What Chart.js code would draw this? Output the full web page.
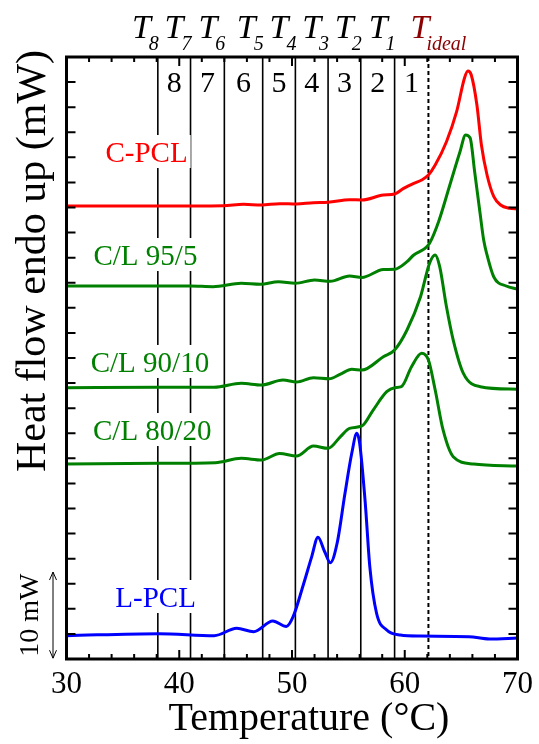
<!DOCTYPE html>
<html lang="en">
<head>
<meta charset="UTF-8">
<title>DSC heating curves</title>
<script src="https://cdn.jsdelivr.net/npm/chart.js"></script>
<style>
  html, body { margin: 0; padding: 0; background: #fff; }
  .warm { position: absolute; left: -999px; top: 0; font-family: "Liberation Serif"; }
</style>
</head>
<body>
<span class="warm">Temperature <i>T ideal</i></span>
<canvas id="dsc" width="539" height="744"></canvas>
<script>
// Heat flow curves: temperature (°C) and offset heat flow (mW)
const tempCPCL = [30.0, 38.0, 43.9, 45.7, 47.3, 48.9, 50.4, 51.9, 53.2, 55.1, 56.2, 58.1, 59.1, 59.9, 60.8, 61.5, 62.1, 62.7, 63.7, 64.6, 65.3, 65.6, 65.9, 66.4, 66.8, 67.3, 67.9, 68.5, 69.3, 70.0];
const heatCPCL = [54.18, 54.18, 54.22, 54.38, 54.30, 54.46, 54.42, 54.58, 54.62, 54.93, 54.90, 55.49, 55.61, 56.29, 56.89, 57.29, 57.89, 59.08, 61.87, 65.46, 69.49, 70.32, 69.85, 66.26, 61.47, 57.89, 55.29, 54.30, 53.90, 53.82];

const temp955 = [30.0, 41.0, 43.0, 45.5, 47.2, 48.8, 50.3, 52.0, 53.4, 55.1, 56.2, 58.1, 59.1, 60.2, 60.8, 61.8, 62.2, 63.0, 64.0, 64.9, 65.4, 65.8, 66.2, 66.7, 67.0, 67.3, 67.9, 69.0, 70.0];
const heat955 = [44.61, 44.61, 44.53, 44.93, 44.81, 45.12, 44.93, 45.33, 45.17, 45.81, 45.63, 46.58, 46.61, 47.52, 48.32, 49.12, 49.72, 52.30, 56.69, 60.67, 62.67, 62.31, 58.28, 53.10, 50.11, 48.32, 45.69, 44.61, 44.25];

const temp9010 = [30.0, 38.2, 43.1, 45.5, 47.3, 49.2, 50.4, 51.9, 53.3, 54.3, 55.3, 56.2, 58.1, 59.1, 60.2, 61.4, 62.2, 62.7, 63.1, 63.7, 64.3, 65.2, 66.7, 70.0];
const heat9010 = [32.45, 32.50, 32.50, 32.97, 32.77, 33.37, 33.13, 33.64, 33.52, 34.08, 34.65, 34.56, 36.15, 36.96, 39.35, 43.33, 47.33, 48.32, 46.92, 42.13, 38.15, 34.17, 32.57, 32.26];

const temp8020 = [30.0, 38.2, 43.2, 45.5, 47.3, 48.9, 50.4, 51.9, 53.2, 54.3, 55.1, 56.2, 57.2, 58.4, 59.1, 59.7, 60.6, 61.5, 62.1, 62.7, 63.4, 64.3, 66.1, 70.0];
const heat8020 = [23.32, 23.41, 23.48, 24.00, 23.80, 24.58, 24.28, 25.47, 25.20, 26.59, 27.59, 27.87, 29.78, 31.97, 32.45, 32.57, 34.96, 36.56, 35.76, 32.17, 27.39, 24.19, 23.32, 23.08];

const tempLPCL = [30.0, 38.2, 43.1, 45.1, 46.6, 48.3, 49.5, 50.1, 51.0, 51.75, 52.3, 52.9, 53.4, 54.0, 54.7, 55.3, 55.75, 56.0, 56.5, 56.9, 57.5, 58.4, 59.6, 61.4, 65.7, 67.5, 70.0];
const heatLPCL = [2.79, 3.03, 2.79, 3.67, 3.27, 4.54, 3.89, 5.06, 8.85, 12.24, 14.56, 12.83, 11.52, 13.84, 19.82, 24.60, 26.99, 25.80, 18.62, 11.04, 5.47, 3.47, 2.87, 2.75, 2.67, 2.39, 2.51];

// fractionation temperatures T8 ... T1, then T ideal
const boundaryTemps = [38.1, 41.0, 44.0, 47.4, 50.3, 53.2, 56.1, 59.1];
const boundarySubs = ['8', '7', '6', '5', '4', '3', '2', '1'];
const idealTemp = 62.1;
const regionNames = ['8', '7', '6', '5', '4', '3', '2', '1'];

const xTickValues = [30, 40, 50, 60, 70];

const serif = '"Liberation Serif", "Times New Roman", serif';

// curve labels: text, colour, anchor (centre x in °C, baseline in mW)
const curveLabels = [
  { text: 'C-PCL', color: '#ff0000', x: 37.1, y: 59.44 },
  { text: 'C/L 95/5', color: '#008000', x: 37.0, y: 47.12 },
  { text: 'C/L 90/10', color: '#008000', x: 37.4, y: 34.33 },
  { text: 'C/L 80/20', color: '#008000', x: 37.6, y: 26.19 },
  { text: 'L-PCL', color: '#0000ff', x: 37.9, y: 6.22 }
];

function pts(t, h) {
  return t.map((v, i) => ({ x: v, y: h[i] }));
}

function curve(t, h, color) {
  return {
    data: pts(t, h),
    borderColor: color,
    borderWidth: 3,
    pointRadius: 0,
    fill: false,
    cubicInterpolationMode: 'monotone'
  };
}

const decor = {
  id: 'decor',
  beforeDatasetsDraw(chart) {
    const { ctx, chartArea: a, scales: { x, y } } = chart;
    ctx.save();
    // boundary lines
    ctx.strokeStyle = '#000';
    ctx.lineWidth = 1.6;
    boundaryTemps.forEach(t => {
      const px = x.getPixelForValue(t);
      ctx.beginPath();
      ctx.moveTo(px, a.top);
      ctx.lineTo(px, a.bottom);
      ctx.stroke();
    });
    ctx.setLineDash([4, 3]);
    ctx.lineWidth = 2;
    const pi = x.getPixelForValue(idealTemp);
    ctx.beginPath();
    ctx.moveTo(pi, a.top);
    ctx.lineTo(pi, a.bottom);
    ctx.stroke();
    ctx.setLineDash([]);

    // curve labels on white boxes
    ctx.font = '29px ' + serif;
    ctx.textAlign = 'center';
    ctx.textBaseline = 'alphabetic';
    curveLabels.forEach(l => {
      const cx = x.getPixelForValue(l.x);
      const by = y.getPixelForValue(l.y);
      const w = ctx.measureText(l.text).width;
      ctx.fillStyle = '#fff';
      ctx.fillRect(cx - w / 2 - 3, by - 27, w + 6, 33);
      ctx.fillStyle = l.color;
      ctx.fillText(l.text, cx, by);
    });

    // region numbers
    ctx.fillStyle = '#000';
    ctx.font = '30px ' + serif;
    const edges = boundaryTemps.concat([idealTemp]);
    regionNames.forEach((n, i) => {
      const cx = (x.getPixelForValue(edges[i]) + x.getPixelForValue(edges[i + 1])) / 2;
      ctx.fillText(n, cx, a.top + 35);
    });
    ctx.restore();
  },
  afterDraw(chart) {
    const { ctx, chartArea: a, scales: { x, y } } = chart;
    ctx.save();
    ctx.strokeStyle = '#000';
    ctx.lineWidth = 3;
    ctx.strokeRect(a.left, a.top, a.right - a.left, a.bottom - a.top);

    // inward ticks
    ctx.lineWidth = 2;
    ctx.beginPath();
    for (let t = 32; t < 70; t += 2) {
      const px = x.getPixelForValue(t);
      const len = t % 10 === 0 ? 9 : 5;
      ctx.moveTo(px, a.bottom);
      ctx.lineTo(px, a.bottom - len);
      ctx.moveTo(px, a.top);
      ctx.lineTo(px, a.top + len);
    }
    for (let i = 1; i < 24; i++) {
      const py = y.getPixelForValue(i * 3);
      ctx.moveTo(a.left, py);
      ctx.lineTo(a.left + 9, py);
      ctx.moveTo(a.right, py);
      ctx.lineTo(a.right - 9, py);
    }
    ctx.stroke();

    // x tick labels
    ctx.fillStyle = '#000';
    ctx.textAlign = 'center';
    ctx.textBaseline = 'alphabetic';
    ctx.font = '31px ' + serif;
    xTickValues.forEach(v => {
      ctx.fillText(String(v), x.getPixelForValue(v), a.bottom + 34);
    });

    // T labels above the frame
    boundaryTemps.forEach((t, i) => {
      const px = x.getPixelForValue(t);
      ctx.font = 'italic 20px ' + serif;
      const w = ctx.measureText(boundarySubs[i]).width;
      ctx.textAlign = 'left';
      ctx.fillText(boundarySubs[i], px + 1 - w, a.top - 7);
      ctx.font = 'italic 34px ' + serif;
      ctx.textAlign = 'right';
      ctx.fillText('T', px + 3 - w, a.top - 19);
    });
    const pi = x.getPixelForValue(idealTemp);
    ctx.fillStyle = '#8b0000';
    ctx.textAlign = 'left';
    ctx.font = 'italic 34px ' + serif;
    ctx.fillText('T', pi - 18, a.top - 19);
    ctx.font = 'italic 20px ' + serif;
    ctx.fillText('ideal', pi - 2, a.top - 7);

    // axis titles
    ctx.fillStyle = '#000';
    ctx.textAlign = 'center';
    ctx.font = '40px ' + serif;
    ctx.fillText('Temperature (\u00b0C)', 309, 730);
    ctx.save();
    ctx.translate(45, 261);
    ctx.rotate(-Math.PI / 2);
    ctx.font = '42px ' + serif;
    ctx.fillText('Heat flow endo up (mW)', 0, 0);
    ctx.restore();

    // 10 mW scale bar
    const bx = 53;
    const b0 = y.getPixelForValue(0.1);
    const b1 = y.getPixelForValue(10.4);
    ctx.lineWidth = 1;
    ctx.beginPath();
    ctx.moveTo(bx, b0);
    ctx.lineTo(bx, b1);
    ctx.moveTo(bx - 3.5, b1 + 8);
    ctx.lineTo(bx, b1);
    ctx.lineTo(bx + 3.5, b1 + 8);
    ctx.moveTo(bx - 3.5, b0 - 8);
    ctx.lineTo(bx, b0);
    ctx.lineTo(bx + 3.5, b0 - 8);
    ctx.stroke();
    ctx.save();
    ctx.translate(38, (b0 + b1) / 2);
    ctx.rotate(-Math.PI / 2);
    ctx.font = '28px ' + serif;
    ctx.fillText('10 mW', 0, 0);
    ctx.restore();
    ctx.restore();
  }
};

function draw() {
  new Chart(document.getElementById('dsc'), {
    type: 'line',
    data: {
      datasets: [
        curve(tempCPCL, heatCPCL, '#ff0000'),
        curve(temp955, heat955, '#008000'),
        curve(temp9010, heat9010, '#008000'),
        curve(temp8020, heat8020, '#008000'),
        curve(tempLPCL, heatLPCL, '#0000ff')
      ]
    },
    options: {
      responsive: false,
      animation: false,
      layout: { padding: { left: 66.5, right: 21.5, top: 57, bottom: 85 } },
      plugins: { legend: { display: false }, tooltip: { enabled: false } },
      scales: {
        x: { type: 'linear', display: false, min: 30, max: 70 },
        y: { display: false, min: 0, max: 72 }
      }
    },
    plugins: [decor]
  });
}

Promise.all([
  document.fonts.load('30px "Liberation Serif"'),
  document.fonts.load('italic 30px "Liberation Serif"')
]).then(draw, draw);
</script>
</body>
</html>
